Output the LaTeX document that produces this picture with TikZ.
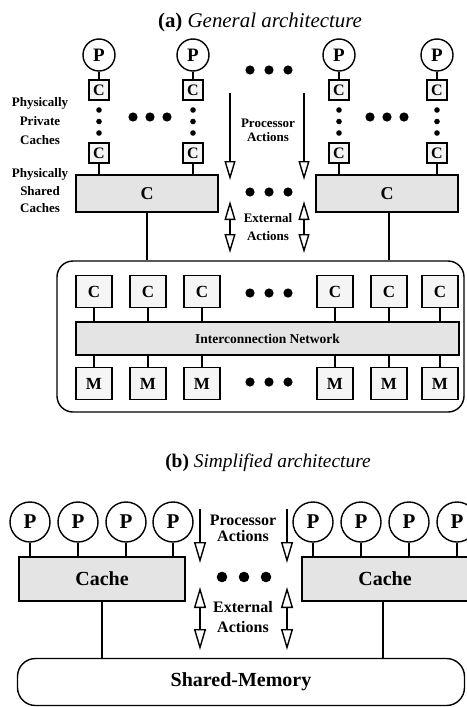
\documentclass[tikz,border=0pt]{standalone}
\usepackage{fontspec}
\setmainfont{Liberation Serif}
\usetikzlibrary{arrows.meta}
\definecolor{lightbox}{HTML}{F5F5F5}
\definecolor{graybox}{HTML}{E4E4E4}
\begin{document}
\begin{tikzpicture}[x=1pt,y=-1pt,line width=1.4pt,
  procA/.style={circle,draw,fill=white,minimum size=32pt,inner sep=0pt,font=\fontsize{19}{19}\selectfont\bfseries},
  procB/.style={circle,draw,fill=white,minimum size=40pt,inner sep=0pt,font=\fontsize{21}{21}\selectfont\bfseries},
  privc/.style={rectangle,draw,fill=lightbox,minimum width=20pt,minimum height=20pt,inner sep=0pt,font=\fontsize{16}{16}\selectfont\bfseries},
  shc/.style={rectangle,draw,fill=graybox,minimum width=142pt,minimum height=37pt,inner sep=0pt,font=\fontsize{18}{18}\selectfont\bfseries},
  memc/.style={rectangle,draw,fill=lightbox,minimum width=36pt,minimum height=32pt,inner sep=0pt,font=\fontsize{17}{17}\selectfont\bfseries},
  cacheB/.style={rectangle,draw,fill=graybox,minimum width=166pt,minimum height=44pt,inner sep=0pt,font=\fontsize{20}{20}\selectfont\bfseries},
  lblA/.style={align=center,inner sep=0pt,font=\fontsize{13}{#1}\selectfont\bfseries},
  lblB/.style={align=center,inner sep=0pt,font=\fontsize{16}{#1}\selectfont\bfseries},
  ttl/.style={anchor=base,inner sep=0pt,font=\fontsize{#1}{#1}\selectfont},
  paA/.style={-{Triangle[open,length=19pt,width=11pt]}},
  eaA/.style={{Triangle[open,length=19pt,width=11pt]}-{Triangle[open,length=19pt,width=11pt]}},
  paB/.style={-{Triangle[open,length=21pt,width=12pt]}},
  eaB/.style={{Triangle[open,length=21pt,width=12pt]}-{Triangle[open,length=21pt,width=12pt]}}
]
\useasboundingbox (0,0) rectangle (466,707);

% ---------------- (a) ----------------
\node[ttl=20.9] (ta) at (260,27) {\textbf{(a)} \textit{General architecture}};

% processors
\foreach \i/\x in {1/99,2/193,3/339,4/437}{
  \node[procA] (p\i) at (\x,55) {P};
  \node[privc] (ct\i) at (\x,90) {C};
  \node[privc] (cb\i) at (\x,153) {C};
  \draw (p\i) -- (ct\i);
  \fill (\x,110) circle (2.8) (\x,121.5) circle (2.8) (\x,133) circle (2.8);
}
% horizontal dots
\foreach \x in {133,150,167,370,387,404}{\fill (\x,117) circle (4.6);}
\foreach \y in {70,192,293,382}{\foreach \x in {250,269,288}{\fill (\x,\y) circle (4.6);}}

% shared caches
\node[shc] (sc1) at (147,193.5) {C};
\node[shc] (sc2) at (387,193.5) {C};
\draw (cb1) -- (cb1 |- sc1.north);
\draw (cb2) -- (cb2 |- sc1.north);
\draw (cb3) -- (cb3 |- sc2.north);
\draw (cb4) -- (cb4 |- sc2.north);

% labels
\node[lblA=19] (lpriv) at (40,121) {Physically\\Private\\Caches};
\node[lblA=17.5] (lshar) at (40,191) {Physically\\Shared\\Caches};

% action arrows (a)
\coordinate (a1s) at (230,93);  \coordinate (a1e) at (230,180);
\coordinate (a2s) at (304,93);  \coordinate (a2e) at (304,180);
\draw[paA] (a1s) -- (a1e);
\draw[paA] (a2s) -- (a2e);
\coordinate (e1s) at (230,201); \coordinate (e1e) at (230,253);
\coordinate (e2s) at (304,201); \coordinate (e2e) at (304,253);
\draw[eaA] (e1e) -- (e1s);
\draw[eaA] (e2e) -- (e2s);
\node[lblA=13.5] (lpa) at (268,130.5) {Processor\\Actions};
\node[lblA=18] (lea) at (268,227) {External\\Actions};

% memory system box
\node[draw,rounded corners=16pt,minimum width=407pt,minimum height=151pt,inner sep=0pt] (msys) at (260.5,336.5) {};
\draw (sc1.south) -- (sc1.south |- msys.north);
\coordinate (sc2b) at (389,212);
\draw (sc2b) -- (sc2b |- msys.north);

\node[rectangle,draw,fill=graybox,minimum width=383pt,minimum height=33pt,inner sep=0pt,font=\fontsize{13.5}{13.5}\selectfont\bfseries] (icn) at (267.5,338.5) {Interconnection Network};
\foreach \i/\x in {1/94,2/148,3/202,4/335,5/389,6/440}{
  \node[memc] (cc\i) at (\x,291.5) {C};
  \node[memc] (mm\i) at (\x,383.5) {M};
  \draw (cc\i) -- (cc\i |- icn.north);
  \draw (mm\i) -- (mm\i |- icn.south);
}

% ---------------- (b) ----------------
\node[ttl=19.4] (tb) at (268,467) {\textbf{(b)} \textit{Simplified architecture}};

\node[cacheB] (cl) at (102,579) {Cache};
\node[cacheB] (cr) at (385,579) {Cache};
\foreach \i/\x in {1/30,2/78,3/126,4/173}{
  \node[procB] (pl\i) at (\x,522) {P};
  \draw (pl\i) -- (pl\i |- cl.north);
}
\foreach \i/\x in {1/313,2/361,3/409,4/457}{
  \node[procB] (pr\i) at (\x,522) {P};
  \draw (pr\i) -- (pr\i |- cr.north);
}
\foreach \x in {222,244,266}{\fill (\x,577) circle (5.3);}

\coordinate (b1s) at (200,509); \coordinate (b1e) at (200,563);
\coordinate (b2s) at (287,509); \coordinate (b2e) at (287,563);
\draw[paB] (b1s) -- (b1e);
\draw[paB] (b2s) -- (b2e);
\coordinate (f1s) at (200,587); \coordinate (f1e) at (200,650);
\coordinate (f2s) at (287,587); \coordinate (f2e) at (287,650);
\draw[eaB] (f1e) -- (f1s);
\draw[eaB] (f2e) -- (f2s);
\node[lblB=16] (lpb) at (243,528) {Processor\\Actions};
\node[lblB=20] (leb) at (243,617) {External\\Actions};

\node[draw,rounded corners=18pt,minimum width=447pt,minimum height=47pt,inner sep=0pt,font=\fontsize{20}{20}\selectfont\bfseries] (shm) at (241,682) {Shared-Memory};
\draw (cl) -- (cl |- shm.north);
\coordinate (crb) at (383,601);
\draw (crb) -- (crb |- shm.north);
\end{tikzpicture}
\end{document}
